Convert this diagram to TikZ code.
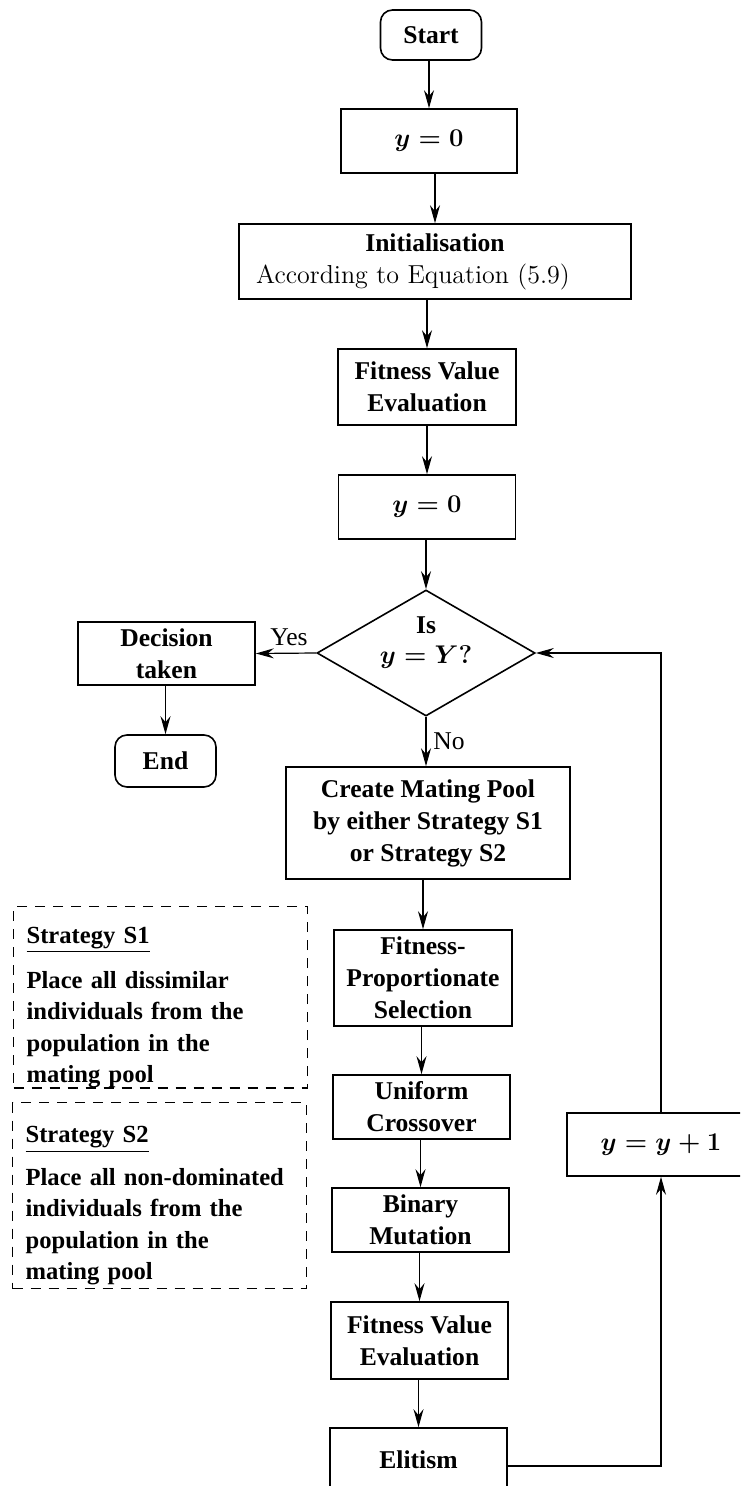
\RequirePackage{fix-cm}
\documentclass[tikz,border=0pt]{standalone}
\usepackage[no-math]{fontspec}
\newfontfamily\tmsfont{Liberation Serif}
\usepackage{tikz}
\usetikzlibrary{arrows.meta, shapes.geometric}

\tikzset{
  box/.style={draw, line width=0.8pt, align=center, inner sep=0pt,
    font=\tmsfont\bfseries\boldmath\fontsize{12.8}{16}\selectfont},
  endbox/.style={box, rounded corners=6pt},
  stratbox/.style={draw, dash pattern=on 5pt off 4pt, line width=0.6pt,
    anchor=north west, align=left, text width=134pt, inner xsep=6.5pt, inner ysep=0pt,
    font=\tmsfont\bfseries\fontsize{12.3}{15.75}\selectfont},
  flow/.style={-{Stealth[length=9pt,width=5pt,inset=3pt]}, line width=0.6pt},
  lab/.style={font=\tmsfont\fontsize{12.8}{16}\selectfont}
}

\begin{document}
\begin{tikzpicture}[x=0.5pt, y=-0.5pt]
\clip (0,0) rectangle (740,1486);

% main column
\node[endbox, minimum width=50.5pt, minimum height=25pt] (start) at (431,35) {Start};
\node[box, minimum width=88pt, minimum height=32pt] (yzero) at (429,141) {$y=0$};
\node[box, minimum width=196pt, minimum height=37.5pt] (init) at (435,261.5)
  {Initialisation\\{\normalfont\fontsize{13}{16}\selectfont According to Equation (5.9)\hspace*{22pt}}};
\node[box, minimum width=89pt, minimum height=38pt] (fit1) at (427,387) {Fitness Value\\Evaluation};
\node[box, minimum width=88.5pt, minimum height=32pt] (ytwo) at (427,507) {$y=0$};
\node[box, diamond, shape aspect=1.73, minimum width=107pt, minimum height=62pt] (ask) at (426,653)
  {Is\\[-1pt]$y=Y?$\rule[-13pt]{0pt}{0pt}};

% yes branch
\node[box, minimum width=88.5pt, minimum height=31.5pt] (dec) at (166.5,653.5) {Decision\\taken};
\node[endbox, minimum width=50.5pt, minimum height=26pt] (stop) at (165.5,761) {End};

% no branch
\node[box, minimum width=142pt, minimum height=56pt] (pool) at (428,823) {Create Mating Pool\\by either Strategy S1\\or Strategy S2};
\node[box, minimum width=89pt, minimum height=48pt] (fps) at (423,978) {Fitness-\\Proportionate\\Selection};
\node[box, minimum width=88.5pt, minimum height=32pt] (ux) at (421.5,1107) {Uniform\\Crossover};
\node[box, minimum width=88.5pt, minimum height=32pt] (bm) at (420.5,1220) {Binary\\Mutation};
\node[box, minimum width=88.5pt, minimum height=38.5pt] (fit2) at (419.5,1340.5) {Fitness Value\\Evaluation};
\node[box, minimum width=88.5pt, minimum height=32pt] (elit) at (418.5,1460) {Elitism};
\node[box, minimum width=94pt, minimum height=31.5pt] (yinc) at (661,1144.5) {$y=y+1$};

% the two strategies
\node[stratbox] (sone) at (13,906)
  {\rule{0pt}{18.5pt}\underline{Strategy S1}\\[6.5pt]Place all dissimilar\\individuals from the\\population in the\\mating pool};
\node[stratbox, minimum height=93pt] (stwo) at (12,1102)
  {\rule{0pt}{18.5pt}\underline{Strategy S2}\\[5.5pt]Place all non-dominated\\individuals from the\\population in the\\mating pool};

% connectors
\foreach \a/\b in {start/yzero, yzero/init, init/fit1, fit1/ytwo, ytwo/ask, pool/fps, fps/ux, ux/bm, bm/fit2, fit2/elit, dec/stop}
  \draw[flow] (\b.north |- \a.south) -- (\b.north);
\draw[flow] (ask.west) -- (dec.east) node[pos=0.45, above, lab] {Yes};
\draw[flow] (ask.south) -- (ask.south |- pool.north) node[midway, right, lab] {No};
\draw[flow] ([yshift=-3pt]elit.east) -| (yinc.south);
\draw[flow] (yinc.north) |- (ask.east);
\end{tikzpicture}
\end{document}
